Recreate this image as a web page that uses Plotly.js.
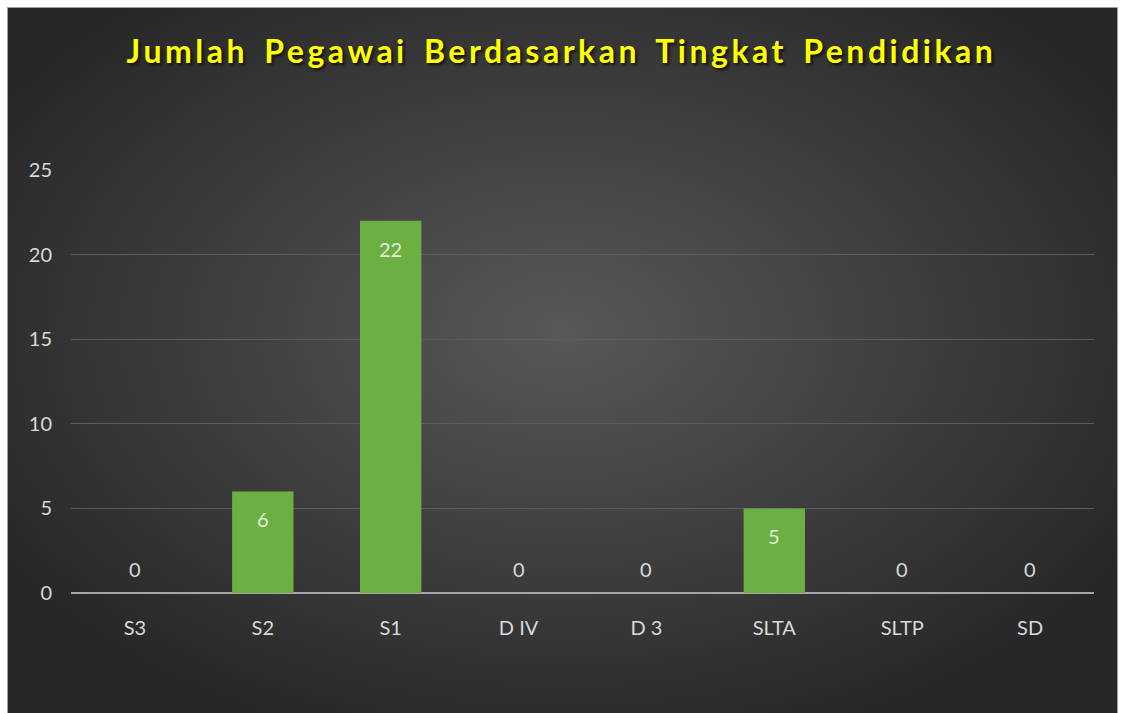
<!DOCTYPE html>
<html>
<head>
<meta charset="utf-8">
<script src="https://cdn.plot.ly/plotly-3.0.1.min.js"></script>
<style>
  html, body { margin: 0; padding: 0; background: #ffffff; width: 1123px; height: 713px; overflow: hidden; }
  #bg { position: absolute; left: 7px; top: 7px; width: 1111px; height: 720px;
        border: 1px solid #a0a0a0; box-sizing: border-box;
        background: radial-gradient(ellipse 60% 60% at 50% 45%, #585858 0%, #3d3d3d 55%, #272727 100%); }
  #chart { position: absolute; left: 0; top: 0; width: 1123px; height: 713px; }
  .gtitle { letter-spacing: 3.5px; word-spacing: 5px; }
</style>
</head>
<body>
<div id="bg"></div>
<div id="chart"></div>
<script>
const categories = ["S3", "S2", "S1", "D IV", "D 3", "SLTA", "SLTP", "SD"];
const values = [0, 6, 22, 0, 0, 5, 0, 0];
const yTicks = [0, 5, 10, 15, 20, 25];

const labelColor = "#d9d9d9";
const fontFam = "Lato, 'Open Sans', sans-serif";

const trace = {
  type: "bar",
  x: categories,
  y: values,
  marker: { color: "#6cb043", line: { width: 0 } },
  hoverinfo: "x+y"
};

const annotations = categories.map((c, i) => ({
  x: c, y: values[i], xref: "x", yref: "y",
  text: String(values[i]), showarrow: false,
  yshift: values[i] > 0 ? -28 : 24,
  font: { family: fontFam, size: 20, color: values[i] > 0 ? "#e2ecd8" : labelColor }
}));

const layout = {
  width: 1123, height: 713,
  paper_bgcolor: "rgba(0,0,0,0)",
  plot_bgcolor: "rgba(0,0,0,0)",
  margin: { l: 71, r: 29, t: 170, b: 120, pad: 0 },
  title: {
    text: "Jumlah Pegawai Berdasarkan Tingkat Pendidikan",
    x: 0.5, xanchor: "center", y: 0.927, yanchor: "middle",
    font: { family: fontFam, size: 32, color: "#ffff00", weight: 700, shadow: "2px 2px 3px #111" }
  },
  bargap: 0.52,
  showlegend: false,
  xaxis: {
    type: "category",
    showgrid: false,
    showline: false,
    zeroline: false,
    ticks: "",
    ticklabelstandoff: 21,
    tickfont: { family: fontFam, size: 20, color: labelColor },
    fixedrange: true
  },
  yaxis: {
    range: [0, 25],
    tickvals: yTicks,
    ticktext: yTicks.map(String),
    showgrid: true,
    gridcolor: "#5c5c5c",
    gridwidth: 1,
    zeroline: true,
    zerolinecolor: "#a6a6a6",
    zerolinewidth: 2,
    showline: false,
    ticks: "",
    ticklabelstandoff: 18,
    tickfont: { family: fontFam, size: 20, color: labelColor },
    fixedrange: true
  },
  annotations: annotations
};

Plotly.newPlot("chart", [trace], layout, { displayModeBar: false, staticPlot: true });
</script>
</body>
</html>
